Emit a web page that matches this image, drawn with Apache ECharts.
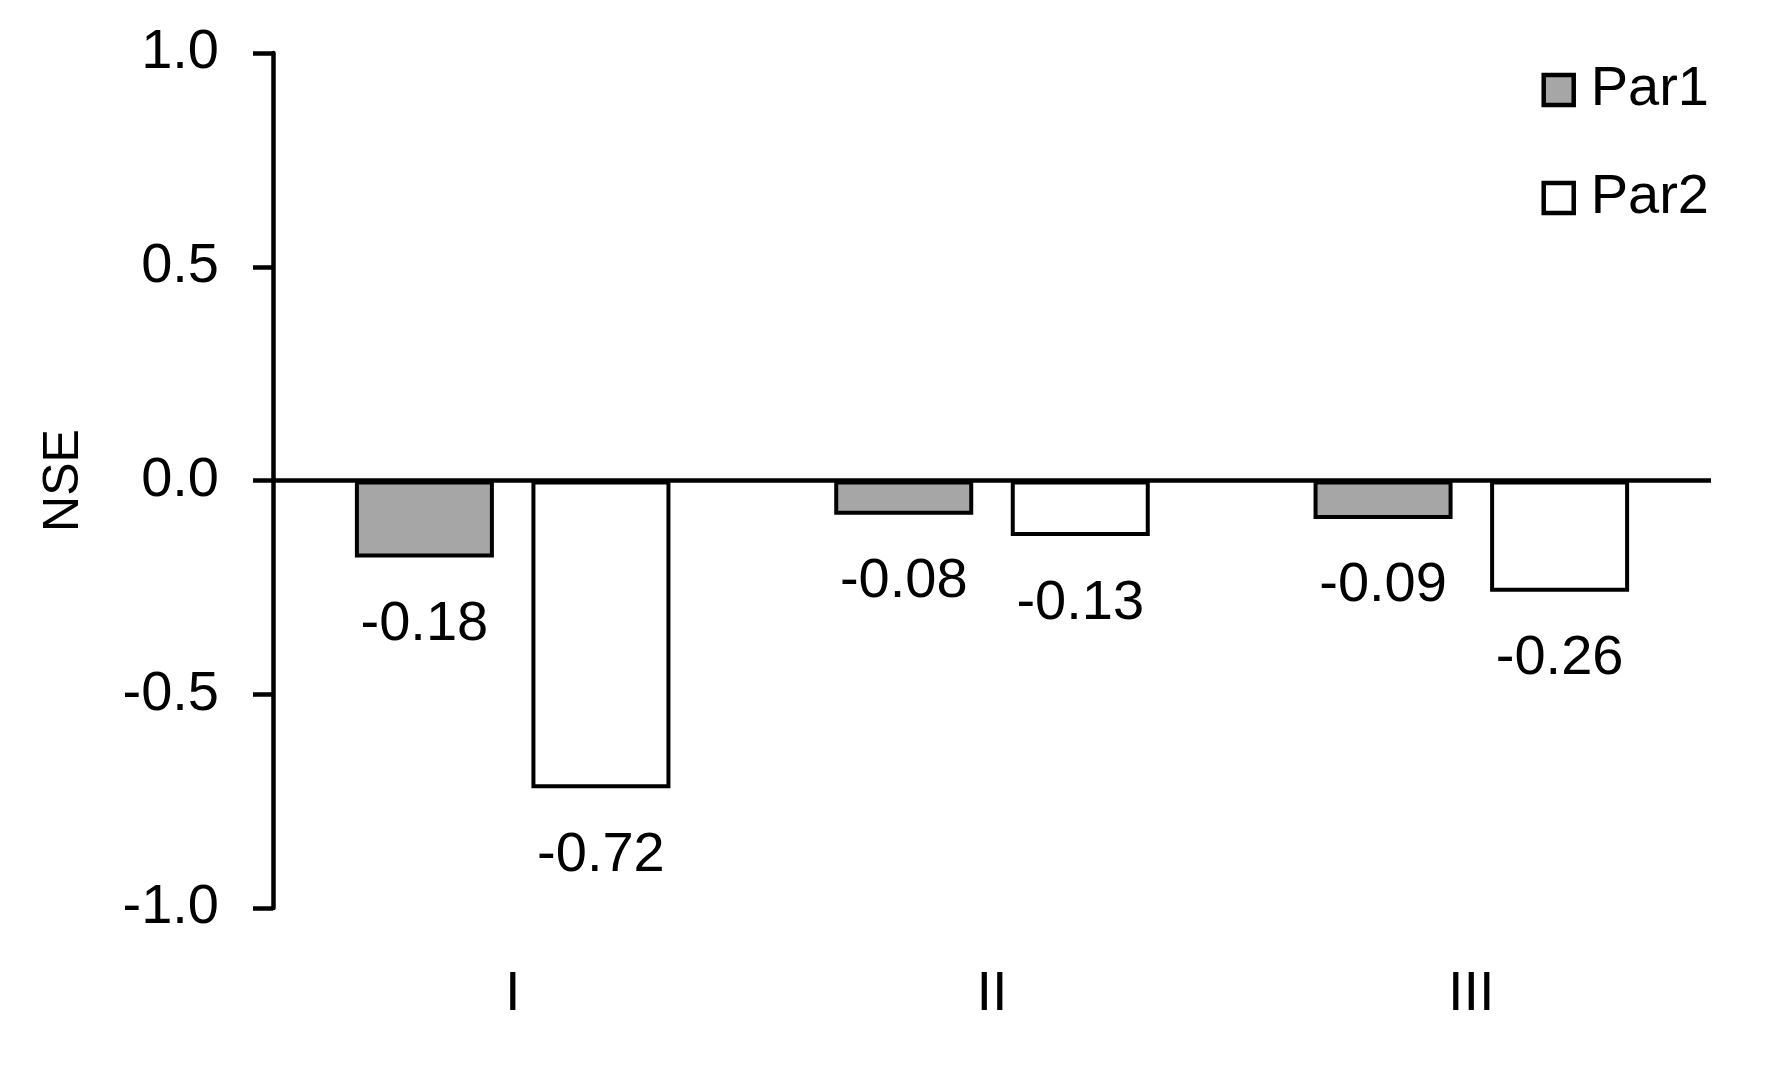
<!DOCTYPE html>
<html>
<head>
<meta charset="utf-8">
<script src="https://cdn.jsdelivr.net/npm/echarts@6/dist/echarts.min.js"></script>
<style>
  html, body { margin: 0; padding: 0; background: #fff; }
  #chart { width: 1779px; height: 1078px; }
</style>
</head>
<body>
<div id="chart"></div>
<script>
  // data
  const categories = ['I', 'II', 'III'];
  const par1 = [-0.18, -0.08, -0.09];
  const par2 = [-0.72, -0.13, -0.26];
  const yTicks = { min: -1, max: 1, interval: 0.5 };

  const FONT = 'Liberation Sans';
  const chart = echarts.init(document.getElementById('chart'));

  const labelStyle = {
    show: true,
    position: 'bottom',
    distance: 39,
    fontFamily: FONT,
    fontSize: 56,
    color: '#000',
    formatter: p => p.value.toFixed(2)
  };

  chart.setOption({
    animation: false,
    backgroundColor: '#fff',
    grid: { left: 273, right: 68, top: 53, bottom: 170 },
    legend: {
      orient: 'vertical',
      right: 65,
      top: 57,
      itemWidth: 30,
      itemHeight: 30,
      itemGap: 52,
      icon: 'rect',
      itemStyle: { borderColor: '#000', borderWidth: 4.5 },
      textStyle: { fontFamily: FONT, fontSize: 56, color: '#000', padding: [0, 0, 0, 12] },
      data: ['Par1', 'Par2']
    },
    xAxis: {
      type: 'category',
      data: categories,
      axisLine: { show: false },
      axisTick: { show: false },
      axisLabel: { margin: 59, fontFamily: FONT, fontSize: 56, color: '#000' }
    },
    yAxis: {
      type: 'value',
      min: yTicks.min,
      max: yTicks.max,
      interval: yTicks.interval,
      name: 'NSE',
      nameLocation: 'middle',
      nameRotate: 90,
      nameGap: 184,
      nameTextStyle: { fontFamily: FONT, fontSize: 50, color: '#000' },
      splitLine: { show: false },
      axisLine: { show: true, lineStyle: { color: '#000', width: 4.5 } },
      axisTick: { show: true, length: 20, lineStyle: { color: '#000', width: 4.5 } },
      axisLabel: {
        margin: 54,
        fontFamily: FONT,
        fontSize: 56,
        color: '#000',
        formatter: v => v.toFixed(1)
      }
    },
    series: [
      {
        name: 'Par1',
        type: 'bar',
        data: par1,
        barWidth: '29%',
        barGap: '27%',
        itemStyle: { color: '#a6a6a6', borderColor: '#000', borderWidth: 4 },
        label: labelStyle,
        markLine: {
          silent: true,
          symbol: 'none',
          label: { show: false },
          lineStyle: { color: '#000', width: 4.5, type: 'solid' },
          data: [{ yAxis: 0 }]
        }
      },
      {
        name: 'Par2',
        type: 'bar',
        data: par2,
        barWidth: '29%',
        barGap: '27%',
        itemStyle: { color: '#fff', borderColor: '#000', borderWidth: 4 },
        label: labelStyle
      }
    ]
  });
</script>
</body>
</html>
